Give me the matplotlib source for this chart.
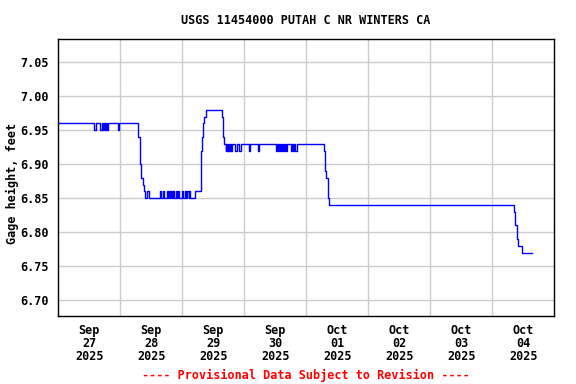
import numpy as np
import matplotlib
matplotlib.use('Agg')
import matplotlib.pyplot as plt

# gage height readings, hours since 2025-09-27 00:00 (step changes only)
hours = [0, 13.9, 14.5, 16.1, 16.8, 17.2, 17.7, 18.1, 18.5, 18.7, 19.4, 23.0, 23.5,
         31.0, 31.5, 31.8, 32.2, 32.6, 33.0, 33.4, 34.5, 35.0,
         39.4, 39.8, 40.7, 41.0, 42.2, 42.6, 42.9, 43.2, 43.5, 43.9, 44.5, 44.9,
         45.4, 45.8, 46.5, 46.9, 47.8, 48.2, 49.1, 49.5, 49.8, 50.4, 50.7, 51.0,
         52.9, 55.2, 55.6, 55.9, 56.4, 57.2,
         63.2, 63.6, 63.9, 64.3,
         64.9, 65.1, 65.3, 65.6, 65.8, 66.2, 66.4, 66.8, 67.0, 67.2,
         68.4, 69.1, 70.0, 70.7, 74.0, 74.3, 77.4, 77.8,
         84.3, 84.7, 85.0, 85.5, 85.8, 86.3, 86.6, 87.1, 87.4, 87.8, 88.1, 88.4,
         90.0, 90.4, 90.7, 91.2, 91.5, 92.3,
         103.0, 103.3, 103.8, 104.3, 104.8,
         176.5, 176.9, 177.5, 178.0, 179.5, 183.3]
gage = [6.96, 6.95, 6.96, 6.95, 6.96, 6.95, 6.96, 6.95, 6.96, 6.95, 6.96, 6.95, 6.96,
        6.94, 6.92, 6.90, 6.88, 6.87, 6.86, 6.85, 6.86, 6.85,
        6.86, 6.85, 6.86, 6.85, 6.86, 6.85, 6.86, 6.85, 6.86, 6.85, 6.86, 6.85,
        6.86, 6.85, 6.86, 6.85, 6.86, 6.85, 6.86, 6.85, 6.86, 6.85, 6.86, 6.85,
        6.86, 6.92, 6.94, 6.96, 6.97, 6.98,
        6.97, 6.95, 6.94, 6.93,
        6.92, 6.93, 6.92, 6.93, 6.92, 6.93, 6.92, 6.93, 6.92, 6.93,
        6.92, 6.93, 6.92, 6.93, 6.92, 6.93, 6.92, 6.93,
        6.92, 6.93, 6.92, 6.93, 6.92, 6.93, 6.92, 6.93, 6.92, 6.93, 6.92, 6.93,
        6.92, 6.93, 6.92, 6.93, 6.92, 6.93,
        6.92, 6.89, 6.88, 6.85, 6.84,
        6.83, 6.81, 6.79, 6.78, 6.77, 6.77]

day_labels = ['Sep\n27\n2025', 'Sep\n28\n2025', 'Sep\n29\n2025', 'Sep\n30\n2025',
              'Oct\n01\n2025', 'Oct\n02\n2025', 'Oct\n03\n2025', 'Oct\n04\n2025']
y_ticks = [6.70, 6.75, 6.80, 6.85, 6.90, 6.95, 7.00, 7.05]

font = 'DejaVu Sans Mono'
fs = 8.5

fig = plt.figure(figsize=(5.76, 3.84), dpi=100)
ax = fig.add_axes([58.3 / 576, 1 - 316 / 384, (554.3 - 58.3) / 576, (316 - 39.3) / 384])

ax.plot(hours, gage, drawstyle='steps-post', color='#0000ff', lw=1, zorder=3)

ax.set_xlim(0, 24 * len(day_labels))
ax.set_ylim(6.6769, 7.0838)

ax.set_xticks([12 + 24 * i for i in range(len(day_labels))])
ax.set_xticklabels(day_labels, fontfamily=font, fontweight='bold', fontsize=fs, linespacing=1.0)
ax.set_xticks([24 * i for i in range(1, len(day_labels))], minor=True)
ax.set_yticks(y_ticks)
ax.set_yticklabels([f'{v:.2f}' for v in y_ticks], fontfamily=font, fontweight='bold', fontsize=fs)
ax.tick_params(axis='both', which='both', length=0)
ax.tick_params(axis='x', pad=6)
ax.tick_params(axis='y', pad=7)

ax.grid(True, axis='x', which='minor', color='#cccccc', lw=1)
ax.grid(True, axis='y', which='major', color='#cccccc', lw=1)
for s in ax.spines.values():
    s.set_linewidth(1)
    s.set_color('black')

fig.text(12, 384 - 183, 'Gage height, feet', transform=None, rotation=90,
         ha='center', va='center', fontfamily=font, fontweight='bold', fontsize=fs)
fig.text(306, 384 - 20, 'USGS 11454000 PUTAH C NR WINTERS CA', transform=None,
         ha='center', va='center', fontfamily=font, fontweight='bold', fontsize=fs)
fig.text(306, 384 - 375, '---- Provisional Data Subject to Revision ----', transform=None,
         ha='center', va='center', fontfamily=font, fontweight='bold', fontsize=fs, color='red')

fig.savefig('out.png', dpi=100)
